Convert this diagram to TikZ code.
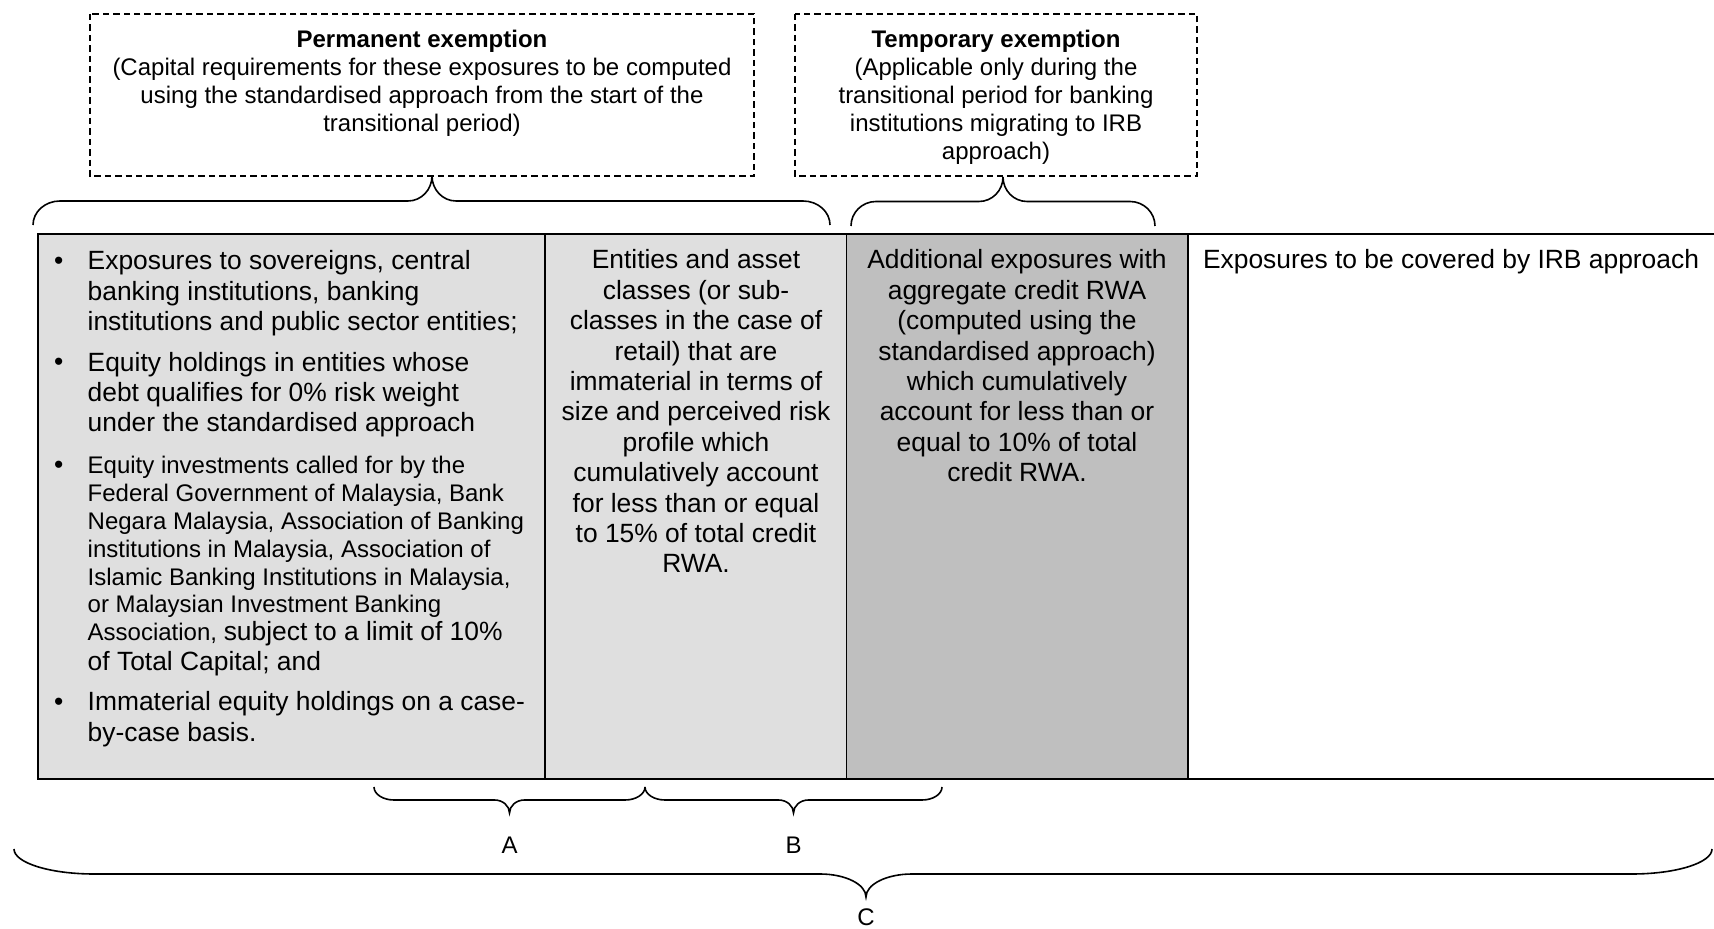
\documentclass[tikz,border=0pt]{standalone}
\usepackage{fontspec}
\setmainfont{Liberation Sans}
\definecolor{lgray}{HTML}{DFDFDF}
\definecolor{dgray}{HTML}{BFBFBF}
\newcommand\bigf{\fontsize{13.2}{15}\selectfont}
\newcommand\smallf{\fontsize{12}{13.8}\selectfont}
\newcommand\wbrace[8]{% x1 x2 xt yend yflat ytip r1 r2
  \draw[braceline] (#1,#4) .. controls (#1,{#4+0.552*(#5-#4)}) and ({#1+0.448*#7},#5) .. ({#1+#7},#5)
  -- ({#3-#8},#5) .. controls ({#3-0.448*#8},#5) and (#3,{#6+0.552*(#5-#6)}) .. (#3,#6)
  .. controls (#3,{#6+0.552*(#5-#6)}) and ({#3+0.448*#8},#5) .. ({#3+#8},#5)
  -- ({#2-#7},#5) .. controls ({#2-0.448*#7},#5) and (#2,{#4+0.552*(#5-#4)}) .. (#2,#4);}
\begin{document}
\begin{tikzpicture}[x=0.5pt,y=-0.5pt,
  txt/.style={inner sep=0pt, outer sep=0pt, anchor=base},
  txtl/.style={inner sep=0pt, outer sep=0pt, anchor=base west},
  dashbox/.style={draw, line width=0.75pt, dash pattern=on 3.2pt off 2pt},
  braceline/.style={line width=0.8pt},
  outer/.style={line width=1pt},
  inner/.style={line width=0.75pt}]
\useasboundingbox (0,0) rectangle (1714,929);

% dashed boxes
\draw[dashbox] (90,14) rectangle (754,176);
\draw[dashbox] (795,14) rectangle (1197,176);
\node[txt,font=\smallf\bfseries] (pt) at (422,47.5) {Permanent exemption};
\foreach \t [count=\i] in {{(Capital requirements for these exposures to be computed},
  {using the standardised approach from the start of the},
  {transitional period)}}
  \node[txt,font=\smallf] (pl\i) at (422,{47.5+28*\i}) {\t};
\node[txt,font=\smallf\bfseries] (tt) at (996,47.5) {Temporary exemption};
\foreach \t [count=\i] in {{(Applicable only during the},
  {transitional period for banking},
  {institutions migrating to IRB},
  {approach)}}
  \node[txt,font=\smallf] (tl\i) at (996,{47.5+28*\i}) {\t};

% table cells
\fill[lgray] (38,234) rectangle (846.5,779.5);
\fill[dgray] (846.5,234) rectangle (1188,779.5);
\draw[inner] (545,234) -- (545,779.5);
\draw[inner] (846.5,234) -- (846.5,779.5);
\draw[outer] (1188,234) -- (1188,779.5);
\draw[outer] (1730,234) -- (38,234) -- (38,779.5) -- (1730,779.5);

% column 1
\foreach \y [count=\i] in {270,371,474,711}
  \node[txt,font=\bigf] (b\i) at (58.7,\y) {\textbullet};
\foreach \t [count=\i from 0] in {{Exposures to sovereigns, central},
  {banking institutions, banking},
  {institutions and public sector entities;}}
  \node[txtl,font=\bigf] (a\i) at (87.7,{270+30.2*\i}) {\t};
\foreach \t [count=\i from 0] in {{Equity holdings in entities whose},
  {debt qualifies for 0\% risk weight},
  {under the standardised approach}}
  \node[txtl,font=\bigf] (e\i) at (87.7,{371.5+30.2*\i}) {\t};
\foreach \t/\y [count=\i from 0] in {{Equity investments called for by the}/474,
  {Federal Government of Malaysia, Bank}/502,
  {Negara Malaysia, Association of Banking}/530,
  {institutions in Malaysia, Association of}/557.5,
  {Islamic Banking Institutions in Malaysia,}/585.5,
  {or Malaysian Investment Banking}/613}
  \node[txtl,font=\smallf] (f\i) at (87.7,\y) {\t};
\node[txtl,font=\smallf] (f6) at (87.7,640.5) {Association, {\bigf subject to a limit of 10\%}};
\node[txtl,font=\bigf] (f7) at (87.7,670.5) {of Total Capital; and};
\node[txtl,font=\bigf] (g0) at (87.7,711) {Immaterial equity holdings on a case-};
\node[txtl,font=\bigf] (g1) at (87.7,741.2) {by-case basis.};

% column 2
\foreach \t [count=\i from 0] in {{Entities and asset},{classes (or sub-},
  {classes in the case of},{retail) that are},{immaterial in terms of},
  {size and perceived risk},{profile which},{cumulatively account},
  {for less than or equal},{to 15\% of total credit},{RWA.}}
  \node[txt,font=\bigf] (c2l\i) at (696,{269+30.4*\i}) {\t};

% column 3
\foreach \t [count=\i from 0] in {{Additional exposures with},{aggregate credit RWA},
  {(computed using the},{standardised approach)},{which cumulatively},
  {account for less than or},{equal to 10\% of total},{credit RWA.}}
  \node[txt,font=\bigf] (c3l\i) at (1017,{269+30.4*\i}) {\t};

% column 4
\node[txtl,font=\bigf] (c4) at (1203,269) {Exposures to be covered by IRB approach};

% braces
\wbrace{33}{830}{432}{225}{201}{176}{27}{24}
\wbrace{851}{1155}{1003}{226}{201.5}{177}{25}{24}
\wbrace{374}{645}{509.5}{787}{800}{813}{20}{15}
\wbrace{645}{942}{793.5}{787}{800}{813}{20}{15}
\wbrace{14}{1712}{866}{849}{874}{897}{80}{46}

\node[txt,font=\smallf] (la) at (509.5,854) {A};
\node[txt,font=\smallf] (lb) at (793.5,854) {B};
\node[txt,font=\smallf] (lc) at (866,925.5) {C};
\end{tikzpicture}
\end{document}
